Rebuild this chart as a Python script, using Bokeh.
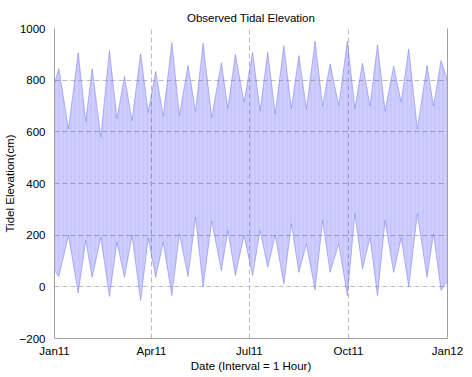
from bokeh.plotting import figure
from bokeh.models import FixedTicker, LinearAxis, Range1d
from bokeh.embed import file_html
from bokeh.resources import INLINE

# Day of year (2011) of each spring tide and the high / low water read at it
spring_day = [4, 22, 35, 51, 65, 80, 94, 109, 124, 138, 155, 168, 184,
              198, 213, 227, 242, 256, 272, 286, 300, 315, 329, 346, 359]
spring_high = [845, 906, 844, 915, 814, 902, 834, 945, 857, 943, 867, 899, 908,
               908, 934, 895, 951, 863, 951, 866, 937, 854, 921, 857, 876]
spring_low = [40, -24, 37, -37, 37, -53, 37, -34, 40, 0, 63, 44, 44,
              76, 12, 56, -12, 56, -34, 70, -34, 56, 0, 37, -14]

# Day of year of each neap tide and the high / low water read at it
neap_day = [13, 29, 43, 58, 72, 87, 101, 116, 131, 146, 161, 176,
            191, 205, 220, 234, 249, 264, 279, 293, 307, 322, 337, 352]
neap_high = [611, 640, 579, 650, 643, 675, 660, 663, 680, 656, 690, 714,
             680, 669, 690, 688, 700, 701, 690, 700, 680, 714, 611, 700]
neap_low = [199, 180, 193, 173, 199, 190, 173, 206, 270, 255, 218, 199,
            218, 199, 244, 167, 257, 167, 283, 190, 257, 190, 283, 206]

# First and last hour of the record
end_day = [0, 365]
end_high = [787, 800]
end_low = [63, 22]

tick_days = [0, 90, 181, 273, 365]
tick_labels = ["Jan11", "Apr11", "Jul11", "Oct11", "Jan12"]
y_ticks = [-200, 0, 200, 400, 600, 800, 1000]

nodes = sorted(zip(spring_day + neap_day + end_day,
                   spring_high + neap_high + end_high,
                   spring_low + neap_low + end_low))
days = [n[0] for n in nodes]
highs = [n[1] for n in nodes]
lows = [n[2] for n in nodes]

FONT = "Liberation Sans"
FS = "11.5px"
AX = "#a0a0a0"

p = figure(frame_width=393, frame_height=310, x_range=Range1d(0, 365), y_range=Range1d(-200, 1000),
           output_backend="svg", toolbar_location=None,
           min_border_left=44, min_border_right=19, min_border_top=28, min_border_bottom=28,
           title="Observed Tidal Elevation")
p.title.align = "center"
p.title.vertical_align = "top"
p.title.text_font = FONT
p.title.text_font_size = FS
p.title.text_font_style = "normal"
p.title.text_color = "black"
p.title.standoff = 5
p.outline_line_color = None
p.background_fill_color = "white"

p.varea(x=days, y1=lows, y2=highs, fill_color="#2020ff", fill_alpha=0.22,
        hatch_pattern="vertical_line", hatch_color="#5050e8", hatch_alpha=0.18,
        hatch_scale=4, hatch_weight=0.6)
p.line(x=days, y=highs, line_color="#7070f0", line_width=0.8, line_alpha=0.6)
p.line(x=days, y=lows, line_color="#7070f0", line_width=0.8, line_alpha=0.6)

for ax in (p.xaxis, p.yaxis):
    ax.axis_line_color = AX
    ax.major_tick_line_color = None
    ax.minor_tick_line_color = None
    ax.major_label_text_font = FONT
    ax.major_label_text_font_size = FS
    ax.major_label_text_color = "black"
    ax.axis_label_text_font = FONT
    ax.axis_label_text_font_size = FS
    ax.axis_label_text_font_style = "normal"
    ax.axis_label_text_color = "black"

p.xaxis.ticker = FixedTicker(ticks=tick_days)
p.xaxis.major_label_overrides = dict(zip(tick_days, tick_labels))
p.xaxis.major_label_standoff = 0
p.xaxis.axis_label = "Date (Interval = 1 Hour)"
p.xaxis.axis_label_standoff = 0

p.yaxis.ticker = FixedTicker(ticks=y_ticks)
p.yaxis.major_label_standoff = 3
p.yaxis.axis_label = "Tidel Elevation(cm)"
p.yaxis.axis_label_standoff = 1

p.xgrid.ticker = FixedTicker(ticks=tick_days)
p.ygrid.ticker = FixedTicker(ticks=y_ticks)
for g in (p.xgrid, p.ygrid):
    g.grid_line_color = "#bdbdbd"
    g.grid_line_dash = "5 3"
    g.grid_line_width = 1

right = LinearAxis(ticker=FixedTicker(ticks=[]), axis_line_color=AX,
                   major_tick_line_color=None, minor_tick_line_color=None,
                   major_label_text_color=None)
p.add_layout(right, "right")

open("out.html", "w").write(file_html(p, INLINE))
